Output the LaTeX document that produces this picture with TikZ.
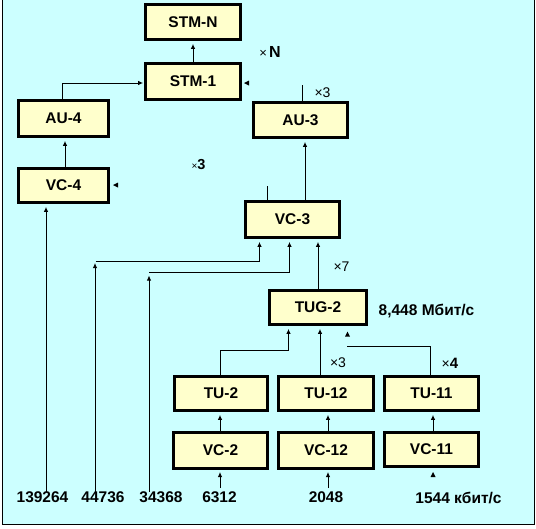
\documentclass[tikz,border=0pt]{standalone}
\usepackage{fontspec}
\setmainfont{Liberation Sans}
\usetikzlibrary{arrows.meta,calc}
\definecolor{bgcyan}{RGB}{204,255,255}
\definecolor{boxyellow}{RGB}{255,255,204}
\begin{document}
\begin{tikzpicture}[x=1pt,y=-1pt,
  box/.style={draw=black,line width=2.8pt,fill=boxyellow,inner sep=0pt,
    font=\fontsize{15.5}{17}\selectfont\bfseries},
  arr/.style={-{Latex[length=5pt,width=4.5pt]},line width=0.9pt,shorten >=3pt},
  ln/.style={line width=0.9pt},
  lbl/.style={font=\fontsize{15.5}{17}\selectfont\bfseries,inner sep=0pt},
  mul/.style={font=\fontsize{14}{16}\selectfont,inner sep=0pt},
  tip/.style={fill=black}]
\useasboundingbox (0,0) rectangle (536,528);
\fill[bgcyan] (2.5,0) rectangle (534.5,524.5);
\draw[line width=1pt] (2.5,-2) -- (2.5,524.5) -- (534.5,524.5) -- (534.5,-2);

% boxes
\node[box,minimum width=95pt,minimum height=35pt] (stmn) at (193,22) {STM-N};
\node[box,minimum width=95pt,minimum height=36pt] (stm1) at (193,81.5) {STM-1};
\node[box,minimum width=90pt,minimum height=36pt] (au4) at (63.5,118.5) {AU-4};
\node[box,minimum width=90pt,minimum height=34pt] (vc4) at (63.5,185.5) {VC-4};
\node[box,minimum width=94pt,minimum height=35pt] (au3) at (300.5,120) {AU-3};
\node[box,minimum width=94pt,minimum height=36pt] (vc3) at (292.5,219.5) {VC-3};
\node[box,minimum width=97pt,minimum height=34pt] (tug2) at (318,307.5) {TUG-2};
\node[box,minimum width=93pt,minimum height=34pt] (tu2) at (221,393.5) {TU-2};
\node[box,minimum width=94pt,minimum height=36pt] (vc2) at (220.5,450.5) {VC-2};
\node[box,minimum width=95pt,minimum height=34pt] (tu12) at (326,393.5) {TU-12};
\node[box,minimum width=95pt,minimum height=36pt] (vc12) at (326,450.5) {VC-12};
\node[box,minimum width=94pt,minimum height=34pt] (tu11) at (431.5,393.5) {TU-11};
\node[box,minimum width=94pt,minimum height=34pt] (vc11) at (431.5,449.5) {VC-11};

% bottom labels
\node[lbl] (n139264) at (42.5,497.5) {139264};
\node[lbl] (n44736) at (103,497.5) {44736};
\node[lbl] (n34368) at (161,497.5) {34368};
\node[lbl] (n6312) at (219.5,497.5) {6312};
\node[lbl] (n2048) at (326,497.5) {2048};
\node[lbl] (n1544) at (458.5,497.5) {1544 кбит/с};
\node[lbl] (r8448) at (426.5,311) {8,448 Мбит/с};

% multiplicity labels
\node[inner sep=0pt] (mN) at (270,52) {\fontsize{13}{15}\selectfont ×\,\fontsize{16}{18}\selectfont\bfseries N};
\node[mul] (m3a) at (322.5,93) {×3};
\node[inner sep=0pt] (m3b) at (198.5,165) {\fontsize{10}{11}\selectfont ×\fontsize{14.5}{16}\selectfont\bfseries 3};
\node[mul] (m7) at (341.5,267) {×7};
\node[mul] (m3c) at (338,363) {×3};
\node[inner sep=0pt] (m4) at (450,363.5) {\fontsize{14}{16}\selectfont ×\fontsize{15}{16}\selectfont\bfseries 4};

% connectors
\draw[arr] (stm1.north) -- (stmn.south);
\draw[arr,shorten >=1pt] (au4.north -| 62,0) |- (stm1.west |- 0,83);
\draw[arr] (vc4.north -| 65,0) -- (au4.south -| 65,0);
\draw[arr] (vc3.north -| 305,0) -- (au3.south -| 305,0);
\draw[ln] (au3.north -| 302,0) -- (302,85);
\draw[ln] (vc3.north -| 267,0) -- (267,186);
\draw[arr] (n139264.north -| 46,0) -- (vc4.south -| 46,0);

\coordinate (b1) at (95.5,261.5);
\coordinate (b2) at (149.3,272.5);
\draw[arr,shorten >=0pt] (n44736.north -| 95,0) -- (95,263);
\draw[arr] (b1) -| (vc3.south -| 259.5,0);
\draw[arr,shorten >=0pt] (n34368.north -| 149,0) -- (149,275.5);
\draw[arr] (b2) -| (vc3.south -| 289.5,0);
\draw[arr] (tug2.north) -- (vc3.south -| tug2.north);

\coordinate (c1) at (288.5,350);
\draw[arr] (tu2.north -| 220,0) |- (c1) -- (tug2.south -| c1);
\draw[arr] (tu12.north -| 320,0) -- (tug2.south -| 320,0);
\coordinate (c2) at (347,346);
\draw[ln] (tu11.north -| 430.5,0) |- (c2);

\draw[arr] (vc2.north -| 220,0) -- (tu2.south -| 220,0);
\draw[arr,shorten >=0pt] (220,488) -- (220,472) coordinate (t6312);
\draw[arr] (vc12.north -| 328,0) -- (tu12.south -| 328,0);
\draw[arr,shorten >=0pt] (328,488) -- (328,472) coordinate (t2048);
\draw[arr] (vc11.north -| 433,0) -- (tu11.south -| 433,0);

% isolated arrowheads
\coordinate (h1) at (244,83);
\fill[tip] (h1) -- ++(5,-2.5) -- ++(0,5) -- cycle;
\coordinate (h2) at (113,185);
\fill[tip] (h2) -- ++(5,-2.5) -- ++(0,5) -- cycle;
\coordinate (h3) at (347.5,331.5);
\fill[tip] (h3) -- ++(-2.5,5) -- ++(5,0) -- cycle;
\coordinate (h4) at (433,472);
\fill[tip] (h4) -- ++(-2.5,5) -- ++(5,0) -- cycle;
\end{tikzpicture}
\end{document}
